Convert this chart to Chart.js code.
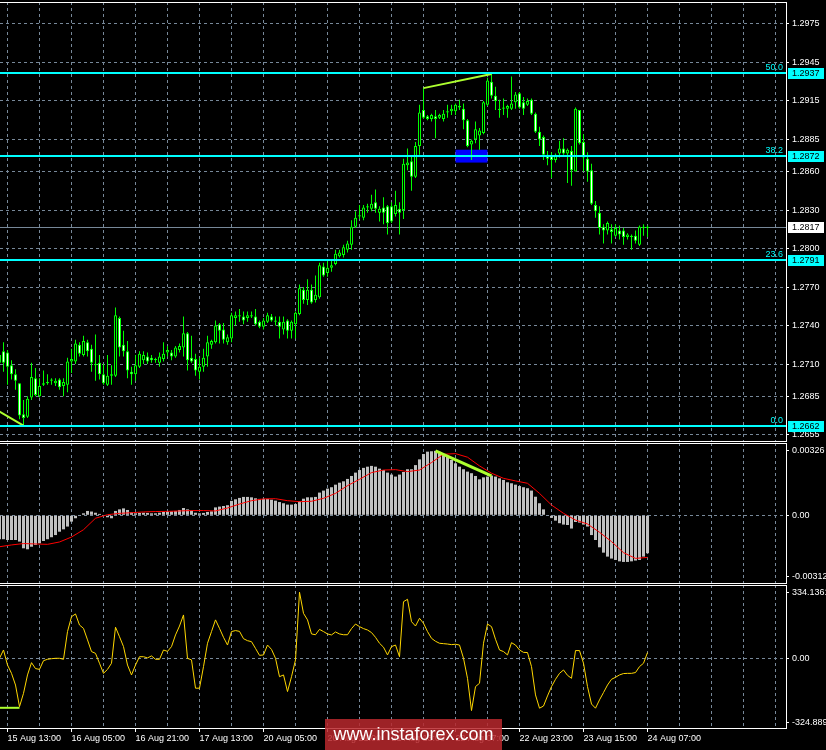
<!DOCTYPE html>
<html>
<head>
<meta charset="utf-8">
<script src="https://cdn.jsdelivr.net/npm/chart.js@4.4.0/dist/chart.umd.min.js"></script>
<style>
html, body { margin: 0; padding: 0; background: #000; overflow: hidden; }
#wrap { position: relative; width: 826px; height: 750px; }
canvas { position: absolute; left: 0; }
#wm {
  position: absolute; left: 325px; top: 719px; width: 177px; height: 31px;
  background: rgba(185, 40, 45, 0.85); color: #fff;
  font: 18px 'Liberation Sans', Arial, sans-serif; line-height: 31px; text-align: center;
}
</style>
</head>
<body>
<div id="wrap">
  <canvas id="main" width="826" height="442" style="top:0"></canvas>
  <canvas id="macd" width="826" height="142" style="top:442px"></canvas>
  <canvas id="cci" width="826" height="166" style="top:584px"></canvas>
  <div id="wm">www.instaforex.com</div>
</div>
<script>
// hourly GBPUSD bars, bar index -1 .. 161 (161 = 24 Aug 07:00)
const firstBar = -1;
const opens = [
  1.2711,1.2720,1.2719,1.2709,1.2702,1.2695,1.2671,1.2669,1.2684,1.2699,
  1.2685,1.2694,1.2695,1.2697,1.2695,1.2698,1.2693,1.2694,1.2712,1.2712,
  1.2725,1.2717,1.2727,1.2722,1.2710,1.2711,1.2702,1.2694,1.2701,1.2701,
  1.2746,1.2725,1.2720,1.2704,1.2702,1.2708,1.2713,1.2716,1.2715,1.2713,
  1.2711,1.2714,1.2719,1.2719,1.2716,1.2721,1.2723,1.2734,1.2715,1.2714,
  1.2704,1.2708,1.2716,1.2725,1.2727,1.2741,1.2737,1.2727,1.2730,1.2746,
  1.2747,1.2747,1.2746,1.2747,1.2747,1.2743,1.2739,1.2743,1.2747,1.2744,
  1.2743,1.2737,1.2744,1.2736,1.2741,1.2749,1.2768,1.2760,1.2768,1.2760,
  1.2762,1.2786,1.2781,1.2785,1.2788,1.2794,1.2795,1.2799,1.2803,1.2817,
  1.2825,1.2824,1.2833,1.2831,1.2836,1.2828,1.2832,1.2833,1.2833,1.2827,
  1.2831,1.2830,1.2865,1.2868,1.2856,1.2880,1.2908,1.2903,1.2901,1.2903,
  1.2902,1.2901,1.2906,1.2907,1.2907,1.2910,1.2909,1.2900,1.2881,1.2885,
  1.2888,1.2890,1.2912,1.2930,1.2919,1.2909,1.2909,1.2909,1.2909,1.2914,
  1.2921,1.2914,1.2912,1.2916,1.2905,1.2891,1.2887,1.2873,1.2872,1.2869,
  1.2874,1.2878,1.2874,1.2876,1.2860,1.2908,1.2883,1.2870,1.2861,1.2834,
  1.2828,1.2817,1.2814,1.2815,1.2810,1.2814,1.2814,1.2809,1.2809,1.2810,
  1.2803,1.2817,1.2816
];
const highs = [
  1.2721,1.2727,1.2721,1.2713,1.2706,1.2695,1.2682,1.2685,1.2711,1.2707,
  1.2699,1.2705,1.2702,1.2699,1.2699,1.2699,1.2699,1.2715,1.2722,1.2729,
  1.2727,1.2732,1.2729,1.2725,1.2733,1.2717,1.2710,1.2717,1.2709,1.2754,
  1.2747,1.2736,1.2728,1.2708,1.2717,1.2720,1.2720,1.2719,1.2717,1.2715,
  1.2719,1.2727,1.2724,1.2721,1.2724,1.2726,1.2747,1.2735,1.2732,1.2718,
  1.2715,1.2722,1.2732,1.2729,1.2744,1.2742,1.2742,1.2733,1.2750,1.2751,
  1.2753,1.2751,1.2751,1.2751,1.2753,1.2744,1.2746,1.2750,1.2749,1.2747,
  1.2747,1.2747,1.2745,1.2744,1.2751,1.2772,1.2770,1.2776,1.2772,1.2779,
  1.2789,1.2789,1.2791,1.2791,1.2799,1.2799,1.2803,1.2806,1.2822,1.2829,
  1.2834,1.2834,1.2835,1.2842,1.2846,1.2833,1.2840,1.2834,1.2836,1.2845,
  1.2836,1.2870,1.2878,1.2872,1.2883,1.2912,1.2925,1.2904,1.2905,1.2908,
  1.2905,1.2908,1.2912,1.2912,1.2913,1.2916,1.2913,1.2901,1.2885,1.2899,
  1.2894,1.2915,1.2933,1.2936,1.2926,1.2916,1.2917,1.2912,1.2934,1.2922,
  1.2922,1.2918,1.2917,1.2917,1.2906,1.2895,1.2888,1.2876,1.2875,1.2874,
  1.2884,1.2886,1.2878,1.2880,1.2910,1.2908,1.2889,1.2875,1.2866,1.2837,
  1.2833,1.2819,1.2821,1.2819,1.2819,1.2818,1.2816,1.2812,1.2811,1.2814,
  1.2818,1.2819,1.2818
];
const lows = [
  1.2709,1.2704,1.2694,1.2698,1.2690,1.2667,1.2662,1.2668,1.2682,1.2685,
  1.2684,1.2693,1.2694,1.2694,1.2693,1.2690,1.2685,1.2688,1.2703,1.2710,
  1.2716,1.2716,1.2716,1.2704,1.2697,1.2698,1.2694,1.2693,1.2694,1.2700,
  1.2716,1.2716,1.2699,1.2694,1.2697,1.2707,1.2710,1.2710,1.2711,1.2711,
  1.2708,1.2712,1.2716,1.2713,1.2715,1.2719,1.2716,1.2705,1.2711,1.2701,
  1.2698,1.2704,1.2708,1.2722,1.2726,1.2726,1.2726,1.2725,1.2727,1.2740,
  1.2743,1.2741,1.2743,1.2746,1.2740,1.2738,1.2737,1.2742,1.2743,1.2740,
  1.2730,1.2733,1.2730,1.2730,1.2730,1.2748,1.2757,1.2756,1.2757,1.2758,
  1.2761,1.2778,1.2778,1.2782,1.2787,1.2793,1.2793,1.2797,1.2799,1.2816,
  1.2823,1.2822,1.2828,1.2829,1.2828,1.2821,1.2819,1.2811,1.2820,1.2825,
  1.2811,1.2823,1.2861,1.2845,1.2855,1.2873,1.2901,1.2900,1.2899,1.2886,
  1.2901,1.2899,1.2902,1.2904,1.2904,1.2908,1.2893,1.2879,1.2869,1.2882,
  1.2877,1.2889,1.2911,1.2917,1.2908,1.2902,1.2904,1.2902,1.2908,1.2909,
  1.2909,1.2904,1.2911,1.2904,1.2890,1.2880,1.2869,1.2865,1.2855,1.2867,
  1.2871,1.2873,1.2851,1.2849,1.2860,1.2881,1.2860,1.2852,1.2834,1.2824,
  1.2811,1.2804,1.2811,1.2804,1.2809,1.2807,1.2803,1.2807,1.2799,1.2804,
  1.2802,1.2810,1.2809
];
const closes = [
  1.2717,1.2711,1.2708,1.2702,1.2697,1.2670,1.2668,1.2683,1.2700,1.2686,
  1.2693,1.2695,1.2696,1.2698,1.2697,1.2692,1.2696,1.2712,1.2714,1.2726,
  1.2718,1.2728,1.2720,1.2711,1.2709,1.2702,1.2695,1.2701,1.2702,1.2748,
  1.2723,1.2720,1.2705,1.2702,1.2709,1.2718,1.2717,1.2712,1.2713,1.2714,
  1.2716,1.2718,1.2721,1.2716,1.2723,1.2724,1.2734,1.2713,1.2712,1.2705,
  1.2708,1.2715,1.2727,1.2728,1.2740,1.2736,1.2729,1.2731,1.2748,1.2748,
  1.2748,1.2744,1.2748,1.2748,1.2741,1.2739,1.2744,1.2748,1.2744,1.2743,
  1.2739,1.2743,1.2736,1.2743,1.2750,1.2769,1.2760,1.2768,1.2758,1.2764,
  1.2787,1.2779,1.2785,1.2787,1.2796,1.2797,1.2801,1.2804,1.2817,1.2824,
  1.2826,1.2832,1.2832,1.2835,1.2831,1.2831,1.2828,1.2820,1.2821,1.2834,
  1.2828,1.2866,1.2867,1.2856,1.2880,1.2906,1.2902,1.2901,1.2904,1.2901,
  1.2904,1.2905,1.2907,1.2909,1.2912,1.2911,1.2900,1.2880,1.2884,1.2893,
  1.2892,1.2914,1.2931,1.2919,1.2915,1.2908,1.2910,1.2911,1.2913,1.2920,
  1.2910,1.2909,1.2915,1.2905,1.2891,1.2885,1.2873,1.2870,1.2869,1.2873,
  1.2878,1.2874,1.2877,1.2861,1.2909,1.2882,1.2871,1.2860,1.2835,1.2829,
  1.2816,1.2814,1.2820,1.2813,1.2816,1.2811,1.2809,1.2811,1.2810,1.2806,
  1.2817,1.2816,1.2817
];

// MACD histogram per bar, and signal line read every 3 bars
const macdHist = [
  -0.00121,-0.00121,-0.00125,-0.00125,-0.00125,-0.00133,-0.00167,-0.00172,-0.00159,-0.00150,
  -0.00142,-0.00130,-0.00121,-0.00111,-0.00100,-0.00083,-0.00071,-0.00057,-0.00032,-0.00015,
  -0.00003,0.00010,0.00022,0.00019,0.00013,0.00007,-0.00003,-0.00010,-0.00015,0.00022,
  0.00030,0.00035,0.00027,0.00015,0.00010,0.00012,0.00013,0.00012,0.00010,0.00010,
  0.00013,0.00017,0.00019,0.00020,0.00022,0.00027,0.00037,0.00030,0.00024,0.00013,
  0.00010,0.00012,0.00017,0.00020,0.00040,0.00044,0.00047,0.00051,0.00073,0.00081,
  0.00088,0.00093,0.00093,0.00091,0.00086,0.00083,0.00083,0.00083,0.00079,0.00074,
  0.00067,0.00061,0.00054,0.00054,0.00057,0.00071,0.00084,0.00091,0.00091,0.00093,
  0.00115,0.00125,0.00135,0.00142,0.00155,0.00165,0.00172,0.00184,0.00199,0.00216,
  0.00229,0.00240,0.00246,0.00250,0.00246,0.00236,0.00229,0.00216,0.00206,0.00196,
  0.00206,0.00219,0.00233,0.00233,0.00254,0.00283,0.00310,0.00322,0.00324,0.00326,
  0.00321,0.00309,0.00297,0.00280,0.00263,0.00246,0.00233,0.00221,0.00213,0.00199,
  0.00182,0.00192,0.00196,0.00201,0.00196,0.00187,0.00179,0.00167,0.00162,0.00155,
  0.00148,0.00142,0.00137,0.00125,0.00094,0.00061,0.00030,-0.00003,-0.00013,-0.00027,
  -0.00040,-0.00047,-0.00049,-0.00067,-0.00034,-0.00037,-0.00047,-0.00057,-0.00100,-0.00125,
  -0.00162,-0.00189,-0.00209,-0.00219,-0.00226,-0.00233,-0.00236,-0.00236,-0.00233,-0.00229,
  -0.00226,-0.00209,-0.00192
];
const signalIdx = [-1,2,5,8,11,14,17,20,23,26,29,32,35,38,41,44,47,50,53,56,59,62,65,68,71,74,77,
  80,83,86,89,92,95,98,101,104,107,110,113,116,119,122,125,128,131,134,137,140,143,146,149,152,155,158,161];
const signalVals = [-0.00159,-0.00150,-0.00143,-0.00145,-0.00147,-0.00135,-0.00110,-0.00073,-0.00015,
  0.00003,0.00010,0.00013,0.00017,0.00019,0.00020,0.00022,0.00024,0.00024,0.00022,0.00037,0.00057,
  0.00074,0.00083,0.00084,0.00074,0.00069,0.00071,0.00086,0.00111,0.00150,0.00182,0.00216,0.00229,
  0.00231,0.00221,0.00229,0.00267,0.00309,0.00312,0.00294,0.00250,0.00213,0.00187,0.00174,0.00162,
  0.00111,0.00052,0.00010,-0.00024,-0.00044,-0.00086,-0.00133,-0.00189,-0.00218,-0.00213];

// CCI per bar
const cciVals = [
  0,42,-34,-76,-135,-244,-177,-84,-22,-52,
  -56,-12,-5,-2,0,0,-5,135,210,224,
  168,151,93,34,25,-25,-76,-56,-25,157,
  109,59,-34,-84,-34,8,8,2,12,-5,
  -5,42,35,59,118,163,219,0,-8,-151,
  -151,-42,76,135,194,151,106,67,135,140,
  136,99,89,84,50,15,17,67,45,0,
  -93,-84,-168,-93,-8,334,227,194,123,119,
  146,135,123,118,133,123,119,119,150,173,
  160,150,143,130,106,76,56,17,59,67,
  8,286,298,185,163,202,177,135,101,86,
  76,74,72,69,71,67,0,-101,-264,-143,
  -126,76,173,160,96,42,34,17,79,67,
  42,30,29,-42,-185,-252,-241,-190,-143,-106,
  -76,-59,-86,-101,39,39,-25,-143,-231,-252,
  -210,-173,-135,-106,-96,-84,-77,-76,-76,-72,
  -42,-25,29
];

// drawn objects (bar index, value)
const priceDivX = [105, 122], priceDivY = [1.2925, 1.2936];
const lowDivX = [-1, 5], lowDivY = [1.2673, 1.2662];
const macdDivX = [108, 122], macdDivY = [0.00326, 0.00199];
const cciDivX = [-1, 4], cciDivY = [-250, -250];
const zoneBars = [113, 121], zonePrices = [1.2867, 1.2877];
const fibLevels = [1.2937, 1.2872, 1.2791, 1.2662];
const fibNames = ['50.0', '38.2', '23.6', '0.0'];
const lastPrice = 1.2817;

// axes
const priceTicks = [1.2655,1.2685,1.2710,1.2740,1.2770,1.2800,1.2830,1.2860,1.2885,1.2915,1.2945,1.2975];
const macdTicks = [-0.00312, 0, 0.00326];
const macdTickText = ['-0.00312', '0.00', '0.00326'];
const cciTicks = [-324.889, 0, 334.1361];
const cciTickText = ['-324.889', '0.00', '334.1361'];
const gridIdx = Array.from({length: 25}, (_, k) => 1 + 8 * k);
const timeIdx = [1, 17, 33, 49, 65, 81, 97, 113, 129, 145, 161];
const timeLabels = ['15 Aug 13:00','16 Aug 05:00','16 Aug 21:00','17 Aug 13:00','20 Aug 05:00',
  '20 Aug 21:00','21 Aug 13:00','22 Aug 07:00','22 Aug 23:00','23 Aug 15:00','24 Aug 07:00'];

const GRID = '#778899', CANDLE = '#00ff00', FIB = '#00ffff', DIV = '#adff2f';
const FONT = {family: "'Liberation Sans', Arial, sans-serif", size: 9};
const FONT_CSS = "9px 'Liberation Sans', Arial, sans-serif";
const idx = opens.map((_, k) => firstBar + k);
const pts = (xs, ys) => xs.map((x, k) => ({x, y: ys[k]}));

function xScale(withLabels) {
  return {
    type: 'linear', min: -0.875, max: 195.625, offset: false, bounds: 'data',
    afterBuildTicks: s => { s.ticks = gridIdx.map(v => ({value: v})); },
    afterFit: s => { s.height = withLabels ? 22 : 0; s.paddingLeft = 0; s.paddingRight = 0; },
    grid: {
      offset: false, color: GRID, drawTicks: withLabels, tickLength: 4,
      tickColor: c => (c.tick && timeIdx.includes(c.tick.value)) ? '#fff' : 'rgba(0,0,0,0)'
    },
    border: {display: withLabels, color: '#fff', dash: [3, 3]},
    ticks: {
      display: withLabels, autoSkip: false, maxRotation: 0, align: 'start', padding: 1,
      color: '#fff', font: FONT,
      callback: v => { const k = timeIdx.indexOf(v); return k < 0 ? '' : timeLabels[k]; }
    }
  };
}

function yScale(min, max, ticks, fmt, onlyZero) {
  return {
    position: 'right', min, max, stacked: false, bounds: 'data',
    afterBuildTicks: s => { s.ticks = ticks.map(v => ({value: v})); },
    afterFit: s => { s.width = 40; s.paddingTop = 0; s.paddingBottom = 0; },
    grid: {
      color: c => (!onlyZero || (c.tick && c.tick.value === 0)) ? GRID : 'rgba(0,0,0,0)',
      tickColor: '#fff', tickLength: 3
    },
    border: {display: true, color: '#fff', dash: [3, 3]},
    ticks: {autoSkip: false, color: '#fff', font: FONT, padding: 3, callback: fmt}
  };
}

const frame = {
  id: 'frame',
  afterDraw(chart, args, opts) {
    const {ctx, chartArea: a} = chart;
    ctx.save();
    ctx.strokeStyle = '#fff';
    ctx.lineWidth = 1;
    ctx.beginPath();
    ctx.moveTo(0, a.top + 0.5); ctx.lineTo(a.right + 1, a.top + 0.5);
    if (opts.bottom) { ctx.moveTo(0, a.bottom - 0.5); ctx.lineTo(a.right + 1, a.bottom - 0.5); }
    ctx.stroke();
    ctx.restore();
  }
};

const priceDecor = {
  id: 'priceDecor',
  beforeDatasetsDraw(chart) {
    const {ctx, chartArea: a, scales: {x, y}} = chart;
    ctx.save();
    ctx.fillStyle = '#0000ff';
    const x0 = x.getPixelForValue(zoneBars[0]), x1 = x.getPixelForValue(zoneBars[1]);
    const y0 = y.getPixelForValue(zonePrices[1]), y1 = y.getPixelForValue(zonePrices[0]);
    ctx.fillRect(x0, y0, x1 - x0, y1 - y0);
    const yp = Math.round(y.getPixelForValue(lastPrice)) + 0.5;
    ctx.strokeStyle = GRID;
    ctx.lineWidth = 1;
    ctx.beginPath(); ctx.moveTo(a.left, yp); ctx.lineTo(a.right, yp); ctx.stroke();
    ctx.restore();
  },
  afterDatasetsDraw(chart) {
    const {ctx, chartArea: a, scales: {y}} = chart;
    ctx.save();
    ctx.fillStyle = FIB;
    ctx.font = FONT_CSS;
    ctx.textAlign = 'right';
    ctx.textBaseline = 'bottom';
    fibLevels.forEach((v, k) => {
      const py = Math.round(y.getPixelForValue(v));
      ctx.fillRect(a.left, py - 1, a.right - a.left, 2);
      ctx.fillText(fibNames[k], a.right - 3, py - 1);
    });
    ctx.restore();
  },
  afterDraw(chart) {
    const {ctx, chartArea: a, scales: {y}} = chart;
    ctx.save();
    ctx.font = FONT_CSS;
    ctx.textAlign = 'left';
    ctx.textBaseline = 'middle';
    const tag = (v, bg) => {
      const py = Math.round(y.getPixelForValue(v));
      ctx.fillStyle = bg;
      ctx.fillRect(a.right + 2, py - 5, 36, 11);
      ctx.fillStyle = '#000';
      ctx.fillText(v.toFixed(4), a.right + 6, py + 0.5);
    };
    fibLevels.forEach(v => tag(v, FIB));
    tag(lastPrice, '#fff');
    ctx.restore();
  }
};

function baseOptions(padTop, scales, frameBottom) {
  return {
    responsive: false, animation: false, devicePixelRatio: 1, events: [],
    layout: {padding: {top: padTop, left: 0, right: 0, bottom: 0}},
    scales,
    plugins: {legend: {display: false}, tooltip: {enabled: false}, frame: {bottom: frameBottom}}
  };
}

new Chart(document.getElementById('main'), {
  type: 'bar',
  data: {
    datasets: [
      {type: 'bar', data: idx.map((x, k) => ({x, y: [lows[k], highs[k]]})), stack: 'candle',
       barThickness: 1, backgroundColor: CANDLE, borderWidth: 0, inflateAmount: 0, order: 3},
      {type: 'bar', data: idx.map((x, k) => ({x, y: [opens[k], closes[k]]})), stack: 'candle',
       barThickness: 3, minBarLength: 1, inflateAmount: 0,
       backgroundColor: opens.map((o, k) => closes[k] >= o ? '#000' : '#fff'),
       borderColor: CANDLE, borderWidth: 1, borderSkipped: false, order: 2},
      {type: 'line', data: pts(priceDivX, priceDivY), borderColor: DIV, borderWidth: 2, pointRadius: 0, order: 1},
      {type: 'line', data: pts(lowDivX, lowDivY), borderColor: DIV, borderWidth: 2, pointRadius: 0, order: 1}
    ]
  },
  options: baseOptions(2, {
    x: xScale(false),
    y: yScale(1.26493, 1.29921, priceTicks, v => v.toFixed(4), false)
  }, true),
  plugins: [frame, priceDecor]
});

new Chart(document.getElementById('macd'), {
  type: 'bar',
  data: {
    datasets: [
      {type: 'bar', data: idx.map((x, k) => ({x, y: macdHist[k]})), barThickness: 3,
       backgroundColor: '#c0c0c0', borderWidth: 0, inflateAmount: 0, order: 3},
      {type: 'line', data: pts(signalIdx, signalVals), borderColor: '#ff0000', borderWidth: 1, pointRadius: 0, order: 2},
      {type: 'line', data: pts(macdDivX, macdDivY), borderColor: DIV, borderWidth: 3, pointRadius: 0, order: 1}
    ]
  },
  options: baseOptions(1, {
    x: xScale(false),
    y: yScale(-0.003476, 0.003658, macdTicks, (v, i) => macdTickText[i], true)
  }, true),
  plugins: [frame]
});

new Chart(document.getElementById('cci'), {
  type: 'line',
  data: {
    datasets: [
      {data: idx.map((x, k) => ({x, y: cciVals[k]})), borderColor: '#ffd700', borderWidth: 1, pointRadius: 0},
      {data: pts(cciDivX, cciDivY), borderColor: DIV, borderWidth: 2, pointRadius: 0}
    ]
  },
  options: baseOptions(1, {
    x: xScale(true),
    y: yScale(-352, 370.2, cciTicks, (v, i) => cciTickText[i], true)
  }, false),
  plugins: [frame]
});
</script>
</body>
</html>
